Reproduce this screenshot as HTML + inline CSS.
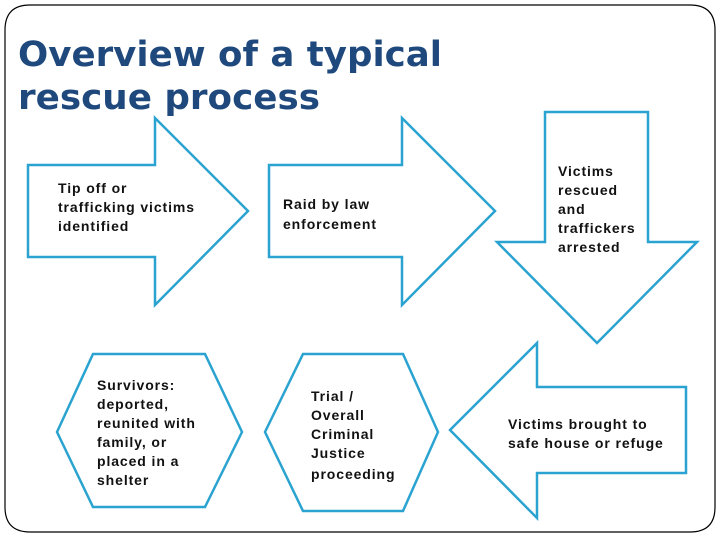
<!DOCTYPE html>
<html><head><meta charset="utf-8"><style>
html,body{margin:0;padding:0;background:#fff;}
svg{display:block}
.t{font-family:"Liberation Sans",Arial,sans-serif;font-weight:bold;font-size:14px;fill:#111;letter-spacing:0.9px}
</style></head><body>
<svg width="720" height="540" viewBox="0 0 720 540">
<path d="M30,5 H690 Q715,5 715,30 V507 Q715,532 690,532 H30 Q5,532 5,507 V30 Q5,5 30,5 Z" fill="#fff" stroke="#000" stroke-width="1.2"/>
<text x="18" y="66" font-family="DejaVu Sans,Verdana,sans-serif" font-weight="bold" font-size="35" fill="#1F497D" textLength="424" lengthAdjust="spacingAndGlyphs">Overview of a typical</text>
<text x="18" y="109" font-family="DejaVu Sans,Verdana,sans-serif" font-weight="bold" font-size="35" fill="#1F497D" textLength="302" lengthAdjust="spacingAndGlyphs">rescue process</text>
<g fill="#fff" stroke="#2AA3D0" stroke-width="2.5" stroke-linejoin="miter">
<polygon points="28,165 155,165 155,118 248,211 155,305 155,257 28,257"/>
<polygon points="269,165 402,165 402,118 495,211 402,305 402,257 269,257"/>
<polygon points="545,112 648,112 648,242 697,242 597,343 497,242 545,242"/>
<polygon points="686,387 537,387 537,343 450,430 537,518 537,473 686,473"/>
<polygon points="57,432 93,354 205,354 242,432 205,507 93,507"/>
<polygon points="265,432 303,354 403,354 438,432 403,511 303,511"/>
</g>
<text class="t"><tspan x="58" y="193">Tip off or</tspan><tspan x="58" y="212">trafficking victims</tspan><tspan x="58" y="231">identified</tspan></text>
<text class="t"><tspan x="283" y="209">Raid by law</tspan><tspan x="283" y="229">enforcement</tspan></text>
<text class="t"><tspan x="558" y="176">Victims</tspan><tspan x="558" y="195">rescued</tspan><tspan x="558" y="214">and</tspan><tspan x="558" y="233">traffickers</tspan><tspan x="558" y="252">arrested</tspan></text>
<text class="t"><tspan x="508" y="429">Victims brought to</tspan><tspan x="508" y="448">safe house or refuge</tspan></text>
<text class="t"><tspan x="97" y="390">Survivors:</tspan><tspan x="97" y="409">deported,</tspan><tspan x="97" y="428">reunited with</tspan><tspan x="97" y="447">family, or</tspan><tspan x="97" y="466">placed in a</tspan><tspan x="97" y="485">shelter</tspan></text>
<text class="t"><tspan x="311" y="401">Trial /</tspan><tspan x="311" y="420">Overall</tspan><tspan x="311" y="439">Criminal</tspan><tspan x="311" y="458">Justice</tspan><tspan x="311" y="479">proceeding</tspan></text>
</svg>
</body></html>
